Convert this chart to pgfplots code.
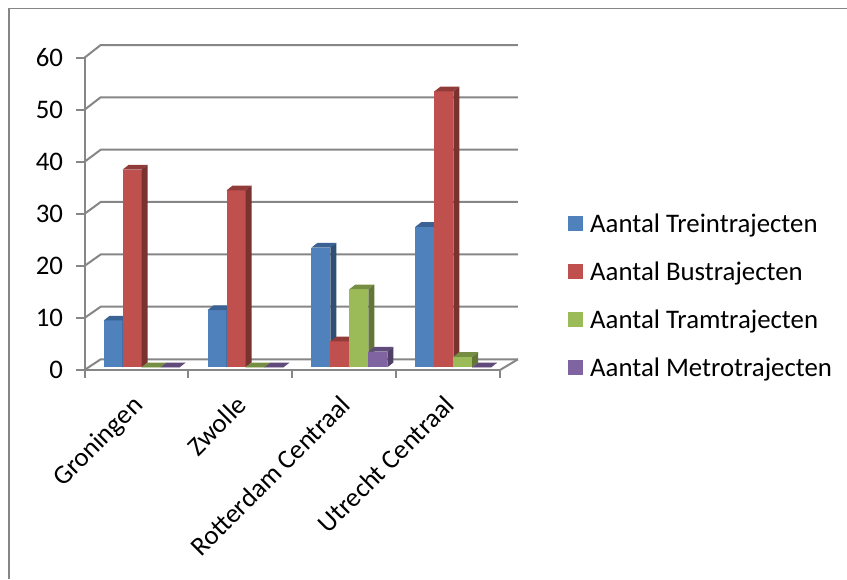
\documentclass[border=0pt]{standalone}
\usepackage{fontspec}
\setmainfont{Carlito}
\usepackage{pgfplots}
\usepackage{pgfplotstable}
\pgfplotsset{compat=1.18}

\definecolor{wallgray}{HTML}{868686}
\definecolor{treinF}{HTML}{4F81BD}\definecolor{treinT}{HTML}{3A6294}\definecolor{treinS}{HTML}{2F4F75}
\definecolor{busF}{HTML}{C0504D}\definecolor{busT}{HTML}{923C3A}\definecolor{busS}{HTML}{7A3230}
\definecolor{tramF}{HTML}{9BBB59}\definecolor{tramT}{HTML}{768E43}\definecolor{tramS}{HTML}{627736}
\definecolor{metroF}{HTML}{8064A2}\definecolor{metroT}{HTML}{614B7B}\definecolor{metroS}{HTML}{503F66}

% Number of connections per station
\pgfplotstableread{
x    Trein Bus Tram Metro
0.55 9     38  0    0
1.55 11    34  0    0
2.55 23    5   15   3
3.55 27    53  2    0
}\trajecten

% A bar with front, top and side faces; the mark sits on the middle of the front top edge
\newcommand{\declareprism}[5]{%
  \pgfdeclareplotmark{#1}{%
    \pgfmathsetmacro{\hgt}{\barval*5.205}%
    \pgfmathsetmacro{\xl}{#5-9.475}%
    \pgfmathsetmacro{\xr}{#5+9.475}%
    \pgfmathsetmacro{\xlb}{\xl+6}%
    \pgfmathsetmacro{\xrb}{\xr+6}%
    \pgfmathsetmacro{\yb}{7.4-\hgt}%
    \pgfmathsetmacro{\yf}{2.7-\hgt}%
    \fill[#2] (\xl pt,\yf pt) rectangle (\xr pt,2.7pt);
    \fill[#3] (\xl pt,2.7pt) -- (\xr pt,2.7pt) -- (\xrb pt,7.4pt) -- (\xlb pt,7.4pt) -- cycle;
    \fill[#4] (\xr pt,2.7pt) -- (\xrb pt,7.4pt) -- (\xrb pt,\yb pt) -- (\xr pt,\yf pt) -- cycle;
  }%
}
\declareprism{prismTrein}{treinF}{treinT}{treinS}{-28.425}
\declareprism{prismBus}{busF}{busT}{busS}{-9.475}
\declareprism{prismTram}{tramF}{tramT}{tramS}{9.475}
\declareprism{prismMetro}{metroF}{metroT}{metroS}{28.425}

\pgfplotsset{
  faces/.style 2 args={scatter, only marks, mark=#1, fill=#2, draw=none, point meta=y,
    visualization depends on={\thisrow{Val} \as \barval}},
  wall/.style={forget plot, wallgray, line width=2pt, no markers},
}

\begin{document}
\begin{tikzpicture}[x=1pt,y=1pt]
\useasboundingbox (0,0) rectangle (847,579);
\draw[wallgray, line width=2pt] (9,0) -- (9,570.3);
\draw[wallgray, line width=1.5pt] (8,570.3) -- (847,570.3);
\begin{axis}[
  at={(84.5pt,209pt)}, anchor=south west,
  scale only axis, width=415.5pt, height=312.3pt,
  xmin=0, xmax=4, ymin=0, ymax=60,
  axis lines=left, clip=false,
  axis line style={-, wallgray, line width=2pt},
  tick style={wallgray, line width=2pt},
  tick align=outside, major tick length=8pt,
  xtick={0,1,2,3,4}, xticklabels={},
  extra x ticks={0.5,1.5,2.5,3.5},
  extra x tick labels={Groningen,Zwolle,Rotterdam Centraal,Utrecht Centraal},
  extra x tick style={major tick length=0pt,
    tick label style={rotate=45, anchor=north east, font=\fontsize{26.8}{32}\selectfont, xshift=-17.15pt, yshift=-9.55pt}},
  ytick={0,10,...,60},
  yticklabel style={font=\fontsize{26.8}{32}\selectfont, xshift=-10pt, /pgf/number format/assume math mode=true},
  legend style={at={(483.5pt,157pt)}, anchor=north west, draw=none, fill=none,
    font=\fontsize{26.8}{32}\selectfont, row sep=21.2pt, inner sep=0pt,
    nodes={text height=17pt, text depth=6pt}},
  legend cell align=left,
  legend image code/.code={\fill[#1] (0pt,-4pt) rectangle (15pt,11pt); \path (20pt,0pt);},
]
% Back wall gridlines, running from the front axis over the side wall
\addplot[wall] coordinates {(0,0) (0.156,2.06) (4.173,2.06)};
\addplot[wall] coordinates {(0,10) (0.156,12.16) (4.173,12.16)};
\addplot[wall] coordinates {(0,20) (0.156,22.2) (4.173,22.2)};
\addplot[wall] coordinates {(0,30) (0.156,32.28) (4.173,32.28)};
\addplot[wall] coordinates {(0,40) (0.156,42.33) (4.173,42.33)};
\addplot[wall] coordinates {(0,50) (0.156,52.4) (4.173,52.4)};
\addplot[wall] coordinates {(0,60) (0.156,62.44) (4.173,62.44)};
% Floor edge on the right
\addplot[wall] coordinates {(4,0) (4.173,2.06)};

\addplot[faces={prismTrein}{treinF}] table[x=x, y=Trein, create on use/Val/.style={create col/copy=Trein}] {\trajecten};
\addlegendentry{Aantal Treintrajecten}
\addplot[faces={prismBus}{busF}] table[x=x, y=Bus, create on use/Val/.style={create col/copy=Bus}] {\trajecten};
\addlegendentry{Aantal Bustrajecten}
\addplot[faces={prismTram}{tramF}] table[x=x, y=Tram, create on use/Val/.style={create col/copy=Tram}] {\trajecten};
\addlegendentry{Aantal Tramtrajecten}
\addplot[faces={prismMetro}{metroF}] table[x=x, y=Metro, create on use/Val/.style={create col/copy=Metro}] {\trajecten};
\addlegendentry{Aantal Metrotrajecten}
\end{axis}
\end{tikzpicture}
\end{document}
